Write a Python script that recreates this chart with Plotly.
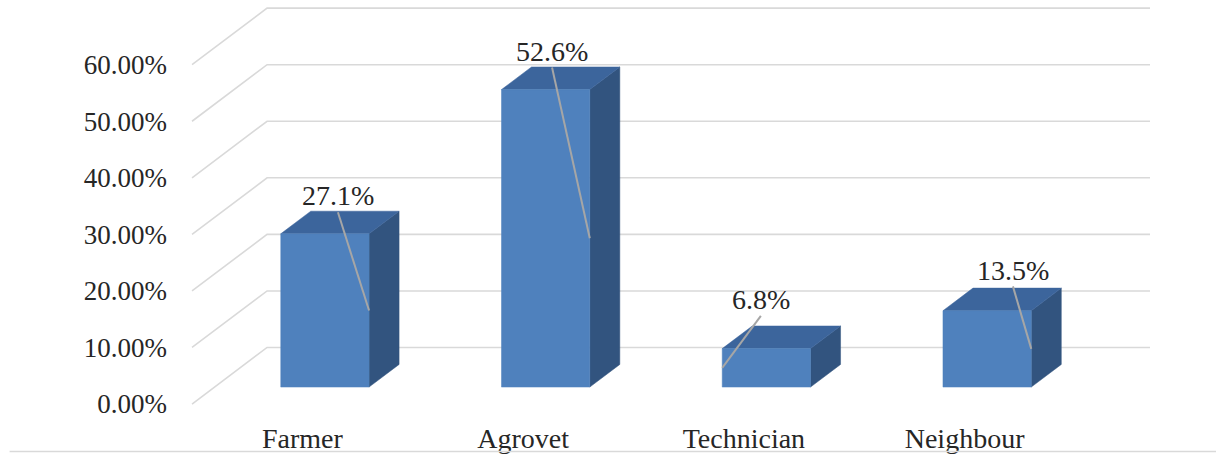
import plotly.graph_objects as go

# ---- data ----
categories = ["Farmer", "Agrovet", "Technician", "Neighbour"]
values = [0.271, 0.526, 0.068, 0.135]
label_texts = ["27.1%", "52.6%", "6.8%", "13.5%"]
y_ticks = [0.0, 0.1, 0.2, 0.3, 0.4, 0.5, 0.6]

# ---- style / geometry (not data) ----
DX, DY = 0.34, 0.10          # 3D depth vector in axis units
BAR_W = 0.4                  # bar width (gap width 150%)
D0, D1 = 0.3, 0.7            # bar depth span (fraction of depth)
LABEL_OFF_X = [0.161, 0.131, 0.077, 0.219]
LABEL_OFF_Y = [0.097, 0.098, 0.117, 0.102]
LEADER_SIDE = [1, 1, -1, 1]  # which front edge the leader line ends at

FRONT = "#4F81BD"
SIDE = "#32547F"
TOP = "#3C659C"
GRID = "#D9D9D9"
LEADER = "#A6A6A6"
TEXT = "#262626"
FONT = "Liberation Serif"

fig = go.Figure()

# back wall gridlines with floor-side diagonals
x_left, x_right = -0.5, len(categories) - 0.5
for t in y_ticks:
    fig.add_trace(go.Scatter(
        x=[x_left, x_left + DX, x_right + DX],
        y=[t, t + DY, t + DY],
        mode="lines", line=dict(color=GRID, width=1.6),
        hoverinfo="skip", showlegend=False))

# 3D bars
for i, v in enumerate(values):
    xl = i - BAR_W / 2 + D0 * DX
    xr = i + BAR_W / 2 + D0 * DX
    yb = D0 * DY
    yt = v + D0 * DY
    ddx = (D1 - D0) * DX
    ddy = (D1 - D0) * DY
    # side face
    fig.add_trace(go.Scatter(
        x=[xr, xr + ddx, xr + ddx, xr, xr],
        y=[yb, yb + ddy, yt + ddy, yt, yb],
        fill="toself", fillcolor=SIDE, mode="lines",
        line=dict(color=SIDE, width=0.5), hoverinfo="skip", showlegend=False))
    # top face
    fig.add_trace(go.Scatter(
        x=[xl, xr, xr + ddx, xl + ddx, xl],
        y=[yt, yt, yt + ddy, yt + ddy, yt],
        fill="toself", fillcolor=TOP, mode="lines",
        line=dict(color=TOP, width=0.5), hoverinfo="skip", showlegend=False))
    # front face
    fig.add_trace(go.Scatter(
        x=[xl, xr, xr, xl, xl],
        y=[yb, yb, yt, yt, yb],
        fill="toself", fillcolor=FRONT, mode="lines",
        line=dict(color=FRONT, width=0.5), hoverinfo="skip", showlegend=False))

# data labels with leader lines
for i, v in enumerate(values):
    lx = i + LABEL_OFF_X[i]
    ly = v + LABEL_OFF_Y[i]
    ex = i + LEADER_SIDE[i] * BAR_W / 2 + D0 * DX
    ey = D0 * DY + v / 2
    fig.add_trace(go.Scatter(
        x=[lx, ex], y=[ly - 0.029, ey], mode="lines",
        line=dict(color=LEADER, width=2), hoverinfo="skip", showlegend=False))
    fig.add_annotation(x=lx, y=ly, text=label_texts[i], showarrow=False,
                       xanchor="center", yanchor="middle",
                       font=dict(family=FONT, size=28, color=TEXT))

# bottom border line
fig.add_shape(type="line", xref="paper", yref="paper",
              x0=-0.16, x1=1.0, y0=-0.093, y1=-0.093,
              line=dict(color=GRID, width=1.5))

fig.update_layout(
    width=1216, height=454,
    margin=dict(l=176, r=0, t=0, b=39),
    paper_bgcolor="white", plot_bgcolor="white",
    showlegend=False,
    xaxis=dict(range=[-0.5726, 4.1389], showgrid=False, zeroline=False,
               showline=False, tickmode="array",
               tickvals=list(range(len(categories))), ticktext=categories,
               ticks="", ticklabelstandoff=6,
               tickfont=dict(family=FONT, size=28, color=TEXT)),
    yaxis=dict(range=[-0.01584, 0.7144], showgrid=False, zeroline=False,
               showline=False, tickmode="array", tickvals=y_ticks,
               tickformat=".2%", ticks="", ticklabelstandoff=8,
               tickfont=dict(family=FONT, size=27, color=TEXT)),
)

fig.write_html("out.html")
